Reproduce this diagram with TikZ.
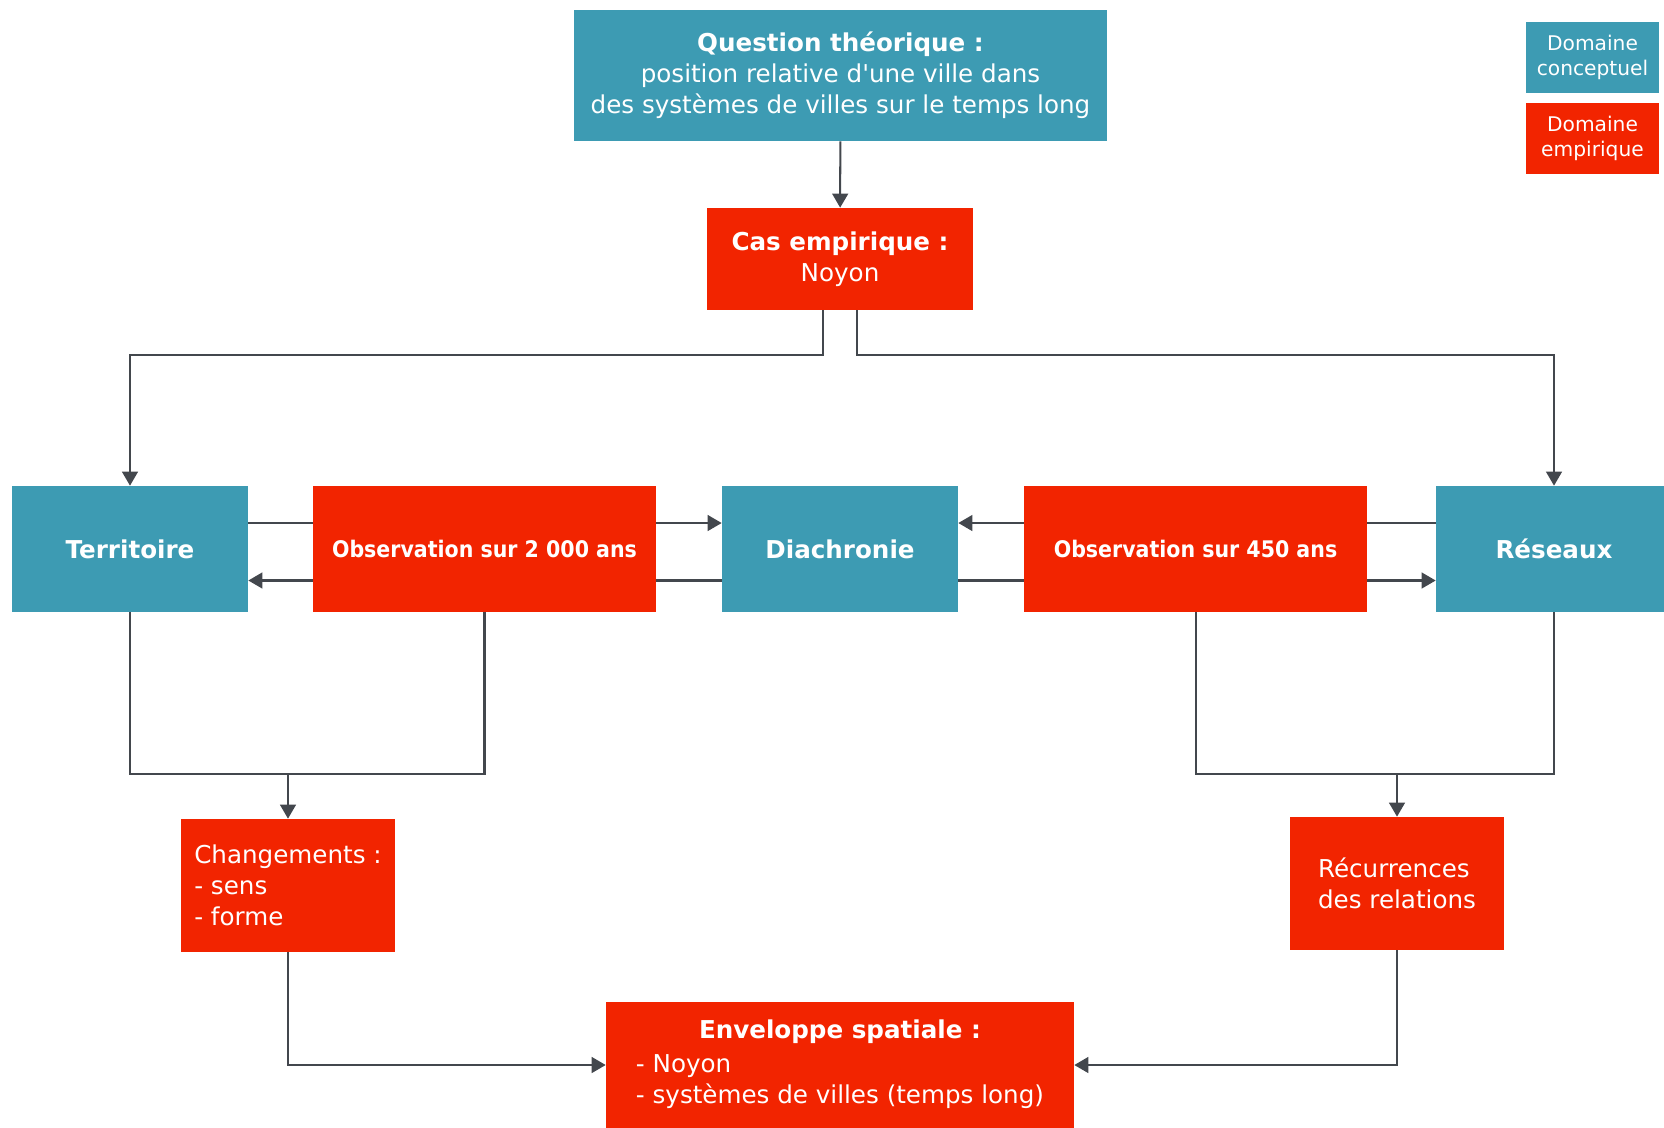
\documentclass[tikz,border=0pt]{standalone}
\usepackage{fontspec}
\setmainfont{DejaVu Sans}
\newfontfamily\condensedfont{DejaVu Sans Condensed}
\usetikzlibrary{arrows.meta}
\definecolor{conceptuel}{HTML}{3D9BB3}
\definecolor{empirique}{HTML}{F22400}
\definecolor{trait}{HTML}{43474D}

\begin{document}
\begin{tikzpicture}[x=0.02cm,y=-0.02cm]
    \tikzstyle{boite}=[rectangle,text=white,inner sep=0pt,font=\fontsize{14}{17.6}\selectfont,align=center]
    \tikzstyle{concept}=[boite,fill=conceptuel]
    \tikzstyle{empir}=[boite,fill=empirique]
    \tikzstyle{legende}=[boite,minimum width=2.66cm,minimum height=1.42cm,font=\fontsize{11.5}{14.5}\selectfont]
    \tikzstyle{lien}=[draw=trait,line width=1.15pt]
    \tikzstyle{fleche}=[lien,-{Triangle[length=8pt,width=9pt]}]
    \useasboundingbox (0,0) rectangle (1664,1127);

    % haut
    \node[concept,minimum width=10.66cm,minimum height=2.62cm] (question) at (840.5,75.5)
        {\textbf{Question théorique :}\\position relative d\textquotesingle une ville dans\\des systèmes de villes sur le temps long};
    \node[empir,minimum width=5.32cm,minimum height=2.04cm] (cas) at (840,259)
        {\textbf{Cas empirique :}\\Noyon};

    % legende
    \node[legende,fill=conceptuel] (legC) at (1592.5,57.5) {Domaine\\conceptuel};
    \node[legende,fill=empirique] (legE) at (1592.5,138.5) {Domaine\\empirique};

    % rangee du milieu
    \foreach \nom/\x/\texte in {territoire/130/Territoire, diachronie/840/Diachronie, reseaux/1554/Réseaux}
        \node[concept,minimum width=4.72cm,minimum height=2.52cm] (\nom) at (\x,549) {\textbf{\texte}};
    \foreach \nom/\x/\duree in {obs2000/484.5/2 000, obs450/1195.5/450}
        \node[empir,minimum width=6.86cm,minimum height=2.52cm,font=\condensedfont\bfseries\fontsize{13}{15}\selectfont]
            (\nom) at (\x,549) {Observation sur \duree{} ans};

    % bas
    \node[empir,minimum width=4.28cm,minimum height=2.66cm,align=left] (changements) at (288,885.5)
        {Changements :\\- sens\\- forme};
    \node[empir,minimum width=4.28cm,minimum height=2.66cm,align=left] (recurrences) at (1397,883.5)
        {Récurrences\\des relations};
    \node[empir,minimum width=9.36cm,minimum height=2.52cm] (enveloppe) at (840,1065)
        {\begin{tabular}{@{}l@{}}\multicolumn{1}{@{}c@{}}{\textbf{Enveloppe spatiale :}}\\[2pt]- Noyon\\- systèmes de villes (temps long)\end{tabular}};

    \coordinate (splitY) at (0,354.5);
    \coordinate (mergeY) at (0,773.6);

    \draw[fleche] (question) -- (cas);
    \draw[fleche] ([xshift=-0.34cm]cas.south) |- (splitY -| territoire) -- (territoire.north);
    \draw[fleche] ([xshift=0.34cm]cas.south) |- (splitY -| reseaux) -- (reseaux.north);

    \draw[lien] ([yshift=0.52cm]territoire.east) -- ([yshift=0.52cm]obs2000.west);
    \draw[fleche] ([yshift=0.52cm]obs2000.east) -- ([yshift=0.52cm]diachronie.west);
    \draw[lien] ([yshift=-0.63cm]diachronie.west) -- ([yshift=-0.63cm]obs2000.east);
    \draw[fleche] ([yshift=-0.63cm]obs2000.west) -- ([yshift=-0.63cm]territoire.east);
    \draw[lien] ([yshift=0.52cm]reseaux.west) -- ([yshift=0.52cm]obs450.east);
    \draw[fleche] ([yshift=0.52cm]obs450.west) -- ([yshift=0.52cm]diachronie.east);
    \draw[lien] ([yshift=-0.63cm]diachronie.east) -- ([yshift=-0.63cm]obs450.west);
    \draw[fleche] ([yshift=-0.63cm]obs450.east) -- ([yshift=-0.63cm]reseaux.west);

    \draw[lien] (territoire.south) |- (mergeY -| obs2000) -- (obs2000.south);
    \draw[fleche] (mergeY -| changements) -- (changements.north);
    \draw[lien] (obs450.south) |- (mergeY -| reseaux) -- (reseaux.south);
    \draw[fleche] (mergeY -| recurrences) -- (recurrences.north);

    \draw[fleche] (changements.south) |- (enveloppe.west);
    \draw[fleche] (recurrences.south) |- (enveloppe.east);
\end{tikzpicture}
\end{document}
